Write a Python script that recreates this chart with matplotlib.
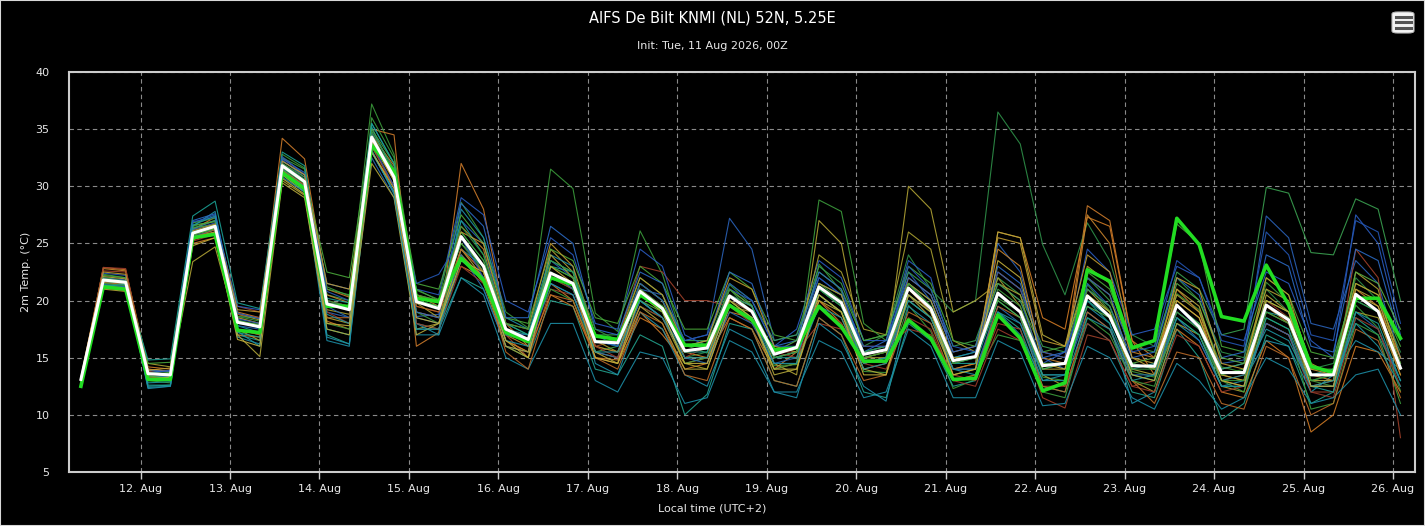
import numpy as np
import pandas as pd
import matplotlib
matplotlib.use("Agg")
import matplotlib.pyplot as plt
import matplotlib.dates as mdates
from matplotlib.patches import FancyBboxPatch, Rectangle

BG = "#000000"
GRID = "#8a8a8a"
FRAME = "#cccccc"
TXT = "#e8e8e8"

# 6-hourly valid times, local time (UTC+2)
times = pd.date_range("2026-08-11 08:00", periods=60, freq="6h")

# ensemble mean (white) and control run (bright green)
ens_mean = [13.1, 21.8, 21.6, 13.6, 13.5, 25.9, 26.5, 18.1, 17.7, 31.8, 30.4, 19.7,
            19.2, 34.3, 30.8, 19.9, 19.3, 25.6, 23.0, 17.5, 16.6, 22.4, 21.5, 16.4,
            16.3, 20.8, 19.3, 15.6, 15.85, 20.4, 19.05, 15.3, 15.9, 21.2, 19.8, 15.3,
            15.7, 21.1, 19.3, 14.75, 15.1, 20.65, 19.0, 14.3, 14.5, 20.4, 18.6, 14.3,
            14.25, 19.6, 17.7, 13.7, 13.7, 19.6, 18.3, 13.5, 13.5, 20.55, 19.05, 14.1]

control = [12.5, 21.2, 21.0, 13.1, 13.1, 25.5, 25.8, 17.4, 17.2, 31.2, 29.8, 19.5,
           19.5, 33.6, 31.3, 20.2, 19.9, 23.7, 21.8, 17.2, 16.4, 22.0, 21.4, 16.9,
           16.6, 20.5, 19.3, 16.1, 16.1, 19.6, 18.3, 15.7, 15.85, 19.5, 17.7, 14.7,
           14.7, 18.3, 16.7, 13.1, 13.2, 18.75, 16.7, 12.1, 12.8, 22.7, 21.7, 15.85,
           16.5, 27.2, 24.9, 18.6, 18.2, 23.1, 19.6, 14.25, 13.7, 20.2, 20.2, 16.7]

# individual members (approximate traces)
members = [
    [13.3, 22.3, 22.0, 13.9, 13.7, 26.5, 27.0, 18.5, 18.0, 32.8, 31.6, 21.2, 20.4, 37.2, 32.8, 20.9, 20.1, 28.6, 25.5, 19.0,
     17.6, 31.5, 29.8, 18.9, 17.3, 26.1, 22.3, 16.1, 15.4, 21.4, 19.6, 14.3, 14.4, 23.2, 20.8, 13.8, 13.7, 19.6, 17.3, 12.3,
     13.1, 20.2, 19.0, 13.3, 13.0, 21.4, 19.1, 13.8, 13.3, 20.6, 19.2, 14.2, 13.7, 21.6, 19.8, 13.0, 12.5, 19.6, 17.6, 12.1],
    [13.0, 22.9, 22.7, 14.2, 14.0, 26.2, 27.3, 19.0, 18.5, 34.2, 32.4, 21.0, 20.3, 35.0, 34.5, 16.0, 17.2, 32.0, 28.0, 18.0,
     16.0, 21.5, 20.0, 15.0, 14.8, 19.0, 17.0, 14.5, 15.0, 18.5, 17.5, 14.0, 15.5, 20.0, 18.0, 14.5, 15.0, 22.0, 20.5, 15.5,
     16.0, 22.5, 21.0, 15.5, 15.0, 28.3, 27.0, 16.5, 15.0, 21.0, 19.0, 13.0, 12.5, 18.0, 17.0, 12.5, 13.0, 21.0, 19.5, 15.0],
    [12.8, 21.4, 21.2, 12.5, 12.6, 25.5, 26.0, 17.0, 16.5, 31.0, 29.5, 17.0, 16.2, 33.0, 29.5, 18.0, 17.5, 22.0, 21.0, 16.0,
     15.0, 20.0, 19.5, 14.0, 13.5, 17.0, 16.0, 10.0, 11.8, 18.0, 17.5, 13.0, 12.5, 18.5, 17.0, 12.0, 11.5, 18.0, 16.5, 12.5,
     13.0, 19.0, 17.5, 12.5, 12.0, 18.0, 16.5, 12.0, 11.5, 17.5, 15.0, 9.6, 11.0, 17.0, 16.0, 11.0, 12.0, 18.5, 17.0, 13.0],
    [13.2, 21.9, 21.7, 13.8, 13.2, 26.8, 27.5, 18.2, 17.6, 32.0, 30.6, 19.0, 18.5, 34.8, 31.5, 18.6, 18.8, 27.0, 25.0, 17.2,
     17.0, 23.5, 22.0, 17.0, 16.0, 21.0, 20.5, 16.5, 17.0, 27.2, 24.5, 16.5, 17.0, 22.0, 20.5, 15.5, 16.0, 22.5, 20.0, 14.5,
     15.0, 25.0, 22.5, 15.0, 14.0, 21.5, 19.5, 14.5, 14.0, 19.5, 17.5, 14.5, 14.8, 27.4, 25.5, 18.0, 17.5, 23.5, 21.5, 15.0],
    [13.0, 21.5, 21.4, 13.5, 13.6, 25.8, 26.3, 18.0, 17.9, 31.5, 30.0, 20.0, 19.5, 34.0, 30.5, 20.5, 19.8, 25.0, 22.5, 17.0,
     16.5, 22.0, 21.0, 16.0, 15.5, 19.5, 18.5, 15.0, 15.5, 20.0, 19.0, 15.0, 15.5, 21.0, 19.5, 16.0, 17.0, 24.0, 21.0, 19.0,
     20.0, 36.5, 33.7, 24.9, 20.5, 26.8, 23.5, 17.0, 16.0, 22.0, 20.0, 15.5, 15.0, 21.0, 19.0, 14.0, 14.5, 22.0, 20.0, 15.5],
    [12.9, 21.6, 21.5, 13.4, 13.3, 26.0, 26.4, 18.3, 17.8, 31.6, 30.2, 20.5, 20.0, 34.5, 31.0, 20.0, 19.5, 26.0, 23.5, 18.0,
     17.0, 23.0, 22.0, 17.0, 17.0, 22.0, 20.5, 16.5, 16.5, 21.5, 20.0, 16.5, 17.0, 23.0, 21.5, 16.5, 17.0, 22.5, 21.0, 16.0,
     16.5, 22.0, 20.5, 16.0, 15.5, 22.0, 20.0, 16.0, 15.5, 22.5, 21.0, 17.0, 17.5, 29.9, 29.4, 24.2, 24.0, 28.9, 28.0, 20.0],
    [13.1, 21.0, 20.8, 13.0, 13.5, 23.4, 24.7, 17.5, 16.5, 30.5, 29.2, 18.5, 18.0, 33.5, 30.0, 17.5, 18.0, 24.0, 22.0, 16.5,
     15.5, 24.5, 22.5, 15.5, 15.0, 21.5, 20.0, 15.0, 15.0, 21.0, 19.5, 14.5, 13.5, 27.0, 25.0, 15.0, 15.0, 30.0, 28.0, 19.0,
     20.0, 21.5, 20.5, 14.0, 14.0, 23.0, 21.5, 15.0, 14.5, 20.5, 19.0, 14.0, 14.5, 21.0, 20.0, 14.5, 13.5, 22.5, 21.0, 14.0],
    [13.2, 22.6, 22.5, 14.0, 13.8, 26.3, 27.0, 19.5, 19.0, 32.5, 31.0, 20.0, 19.5, 34.0, 31.5, 19.5, 19.0, 24.5, 22.5, 17.0,
     15.0, 21.0, 20.5, 16.0, 16.5, 23.0, 22.5, 20.0, 20.0, 19.5, 18.0, 15.5, 15.5, 18.0, 17.5, 16.0, 16.0, 17.5, 17.0, 13.5,
     13.0, 18.0, 17.5, 11.5, 10.6, 17.0, 16.5, 12.5, 13.0, 19.0, 17.5, 13.0, 13.5, 18.0, 17.0, 12.0, 12.0, 24.5, 22.0, 8.0],
    [12.7, 21.3, 21.1, 13.2, 13.0, 25.0, 25.5, 17.0, 16.8, 31.2, 29.8, 18.2, 17.5, 33.0, 30.0, 19.0, 18.5, 23.0, 22.0, 16.5,
     15.5, 20.5, 19.5, 15.0, 14.5, 18.5, 17.5, 14.0, 14.5, 19.0, 18.5, 14.0, 14.5, 20.0, 18.5, 14.0, 14.5, 20.5, 19.0, 14.0,
     14.5, 26.0, 25.5, 18.5, 17.5, 27.3, 26.5, 16.5, 13.5, 17.5, 16.0, 12.0, 11.5, 16.5, 15.0, 8.5, 10.0, 16.0, 15.5, 12.0],
    [12.8, 21.7, 21.6, 12.4, 12.5, 26.5, 27.8, 17.8, 17.2, 32.2, 31.0, 16.8, 16.2, 35.5, 32.0, 18.0, 17.0, 28.0, 25.5, 18.5,
     17.5, 24.0, 23.0, 14.5, 13.5, 19.0, 17.5, 13.5, 12.5, 17.5, 16.5, 12.0, 11.5, 18.0, 16.5, 12.5, 11.2, 19.5, 18.0, 14.0,
     14.0, 19.0, 17.0, 13.0, 13.5, 19.5, 18.0, 11.0, 12.0, 18.0, 16.5, 12.5, 13.0, 16.5, 16.0, 12.0, 13.5, 16.5, 15.5, 14.0],
    [13.0, 22.0, 21.8, 13.7, 13.9, 26.2, 26.8, 19.5, 19.2, 32.3, 30.8, 21.5, 21.0, 33.0, 29.5, 21.0, 20.5, 29.0, 27.5, 20.0,
     19.0, 25.5, 24.0, 18.0, 17.5, 24.5, 23.0, 17.0, 16.0, 21.0, 20.0, 16.0, 17.5, 23.5, 22.0, 16.5, 16.5, 23.5, 22.0, 15.0,
     15.5, 21.5, 20.0, 14.5, 15.5, 24.5, 22.5, 17.0, 17.5, 23.0, 22.0, 17.0, 16.5, 22.5, 21.5, 16.5, 15.0, 27.5, 25.0, 17.0],
    [13.1, 21.2, 21.0, 14.5, 14.2, 25.6, 26.0, 18.8, 18.3, 31.0, 29.5, 19.2, 18.8, 33.8, 30.5, 19.8, 18.5, 24.0, 21.5, 16.0,
     15.0, 22.5, 21.0, 16.5, 15.5, 20.0, 18.5, 14.5, 14.0, 19.5, 19.0, 15.5, 16.0, 24.0, 22.5, 17.5, 17.0, 26.0, 24.5, 16.5,
     15.5, 22.0, 19.5, 13.5, 12.5, 21.0, 19.0, 13.0, 12.0, 18.0, 17.0, 12.5, 12.0, 19.0, 18.0, 12.5, 12.5, 19.0, 18.5, 13.5],
    [12.6, 21.5, 21.3, 13.0, 12.8, 26.8, 27.2, 17.5, 17.0, 32.5, 31.5, 18.0, 17.5, 36.0, 32.5, 19.0, 18.0, 25.5, 22.5, 17.5,
     16.5, 21.0, 20.0, 15.5, 16.0, 20.5, 19.0, 14.5, 15.0, 20.0, 18.5, 14.0, 14.5, 28.8, 27.8, 18.0, 16.5, 21.5, 19.5, 13.0,
     13.5, 17.0, 16.5, 12.0, 11.5, 18.5, 17.0, 13.0, 12.5, 18.5, 17.0, 13.0, 12.0, 18.5, 17.5, 10.5, 11.0, 18.0, 17.0, 11.0],
    [13.3, 22.8, 22.6, 14.0, 13.8, 25.3, 26.0, 18.5, 18.0, 31.8, 30.5, 20.5, 19.8, 34.5, 31.8, 20.5, 19.5, 26.5, 24.5, 17.0,
     16.0, 22.0, 21.5, 16.0, 15.5, 21.0, 19.5, 15.5, 15.0, 20.5, 19.5, 15.0, 15.5, 20.5, 19.0, 14.5, 15.0, 21.0, 19.0, 14.0,
     14.5, 24.5, 23.0, 15.0, 14.5, 27.5, 25.0, 15.5, 15.0, 20.0, 18.5, 13.5, 13.0, 19.5, 18.0, 13.5, 13.0, 20.5, 19.0, 13.5],
    [13.0, 21.8, 21.5, 12.6, 12.6, 26.3, 27.0, 17.2, 16.8, 31.5, 30.0, 17.5, 17.0, 35.2, 31.0, 17.5, 17.5, 24.5, 23.0, 17.5,
     17.0, 23.0, 22.5, 17.0, 16.5, 20.0, 18.5, 15.5, 16.0, 19.5, 18.5, 15.0, 15.5, 21.5, 20.5, 15.5, 16.0, 21.5, 20.0, 15.0,
     15.5, 20.5, 19.0, 14.0, 14.5, 20.0, 18.5, 14.0, 14.5, 19.5, 18.0, 14.0, 14.5, 19.0, 18.5, 13.5, 14.0, 20.0, 19.0, 14.5],
    [12.9, 21.4, 21.2, 13.3, 13.4, 25.6, 26.2, 17.8, 17.5, 31.4, 30.0, 19.5, 18.5, 32.5, 29.0, 18.5, 18.0, 24.0, 21.0, 16.0,
     15.5, 21.5, 20.5, 15.5, 15.0, 20.0, 18.5, 15.0, 14.5, 19.0, 18.0, 14.5, 15.0, 20.5, 19.0, 14.5, 15.0, 20.0, 18.5, 14.0,
     14.0, 19.5, 18.0, 13.5, 13.5, 19.0, 17.5, 13.5, 13.5, 18.5, 16.5, 12.5, 12.5, 18.0, 17.0, 12.5, 12.5, 19.0, 17.5, 13.0],
    [13.2, 22.2, 22.0, 14.5, 14.6, 26.6, 26.9, 18.6, 18.5, 32.0, 30.8, 22.5, 22.0, 35.0, 32.0, 21.5, 21.0, 27.5, 25.0, 18.5,
     18.0, 24.5, 23.5, 18.5, 18.0, 23.0, 21.5, 17.5, 17.5, 22.5, 21.0, 17.0, 16.5, 22.5, 21.0, 16.5, 17.0, 23.0, 21.5, 16.5,
     16.0, 21.5, 20.0, 15.5, 16.0, 22.5, 21.0, 16.0, 16.5, 26.7, 25.0, 16.0, 15.5, 22.0, 20.5, 15.5, 15.0, 21.5, 20.5, 16.0],
    [12.9, 22.9, 22.8, 13.8, 13.5, 25.2, 25.8, 18.8, 18.5, 31.2, 29.8, 19.0, 18.0, 33.5, 30.0, 18.0, 17.5, 23.0, 21.5, 17.0,
     16.5, 22.0, 21.0, 16.0, 15.0, 19.5, 18.5, 15.0, 16.0, 20.0, 19.0, 15.5, 15.0, 19.5, 18.0, 14.5, 14.0, 18.5, 17.5, 13.0,
     12.5, 17.5, 16.5, 12.5, 12.5, 18.0, 16.5, 12.5, 12.0, 17.0, 16.0, 12.0, 12.5, 20.0, 18.5, 12.0, 11.5, 18.5, 17.5, 12.5],
    [12.8, 21.6, 21.5, 12.3, 12.5, 26.0, 26.6, 16.8, 16.2, 30.8, 29.5, 16.5, 16.0, 33.0, 29.5, 17.0, 17.0, 22.0, 20.5, 15.0,
     14.0, 18.0, 18.0, 13.0, 12.0, 15.5, 15.0, 11.0, 11.5, 16.5, 15.5, 12.0, 12.0, 16.5, 15.5, 11.5, 12.0, 17.5, 16.0, 11.5,
     11.5, 16.5, 15.5, 10.8, 11.0, 16.0, 15.0, 11.5, 10.5, 14.5, 13.0, 10.5, 11.5, 15.0, 14.0, 11.0, 11.5, 13.5, 14.0, 10.0],
    [13.0, 22.1, 21.9, 13.6, 13.4, 25.9, 26.4, 17.0, 15.1, 30.3, 29.0, 17.5, 17.0, 32.0, 29.0, 17.0, 18.0, 24.5, 22.0, 16.0,
     15.5, 24.0, 22.0, 15.5, 14.5, 19.5, 18.0, 14.0, 14.0, 19.5, 18.5, 13.5, 14.0, 20.0, 19.0, 14.0, 13.5, 20.5, 18.5, 13.5,
     14.0, 26.0, 25.5, 17.0, 16.0, 22.0, 20.5, 14.0, 13.5, 21.0, 19.5, 13.5, 13.0, 20.5, 19.0, 13.0, 13.0, 21.0, 20.0, 14.5],
    [13.1, 21.9, 21.7, 13.9, 13.8, 27.0, 27.6, 18.9, 18.4, 32.4, 31.2, 19.8, 19.5, 34.6, 30.5, 19.0, 18.5, 28.5, 26.5, 18.5,
     18.5, 26.5, 25.0, 17.5, 17.0, 22.5, 21.5, 16.0, 16.5, 22.5, 21.5, 16.0, 16.5, 22.5, 21.0, 15.5, 16.5, 22.0, 20.5, 15.5,
     16.0, 23.0, 21.5, 15.0, 15.5, 21.0, 19.5, 15.0, 15.5, 22.0, 20.5, 15.0, 15.5, 24.0, 23.0, 16.0, 15.5, 24.5, 23.5, 16.5],
    [13.1, 21.6, 21.4, 13.3, 13.2, 25.5, 26.2, 17.5, 17.0, 31.4, 30.1, 18.5, 18.5, 34.0, 30.8, 19.5, 19.0, 24.5, 22.5, 15.5,
     14.0, 20.5, 20.0, 15.0, 14.0, 19.0, 18.0, 13.5, 13.0, 18.5, 17.5, 13.0, 12.5, 18.5, 17.0, 13.0, 13.5, 19.0, 18.0, 13.0,
     13.5, 19.5, 18.5, 12.5, 12.0, 19.0, 17.5, 13.0, 11.0, 15.5, 15.0, 11.0, 10.5, 16.0, 15.0, 10.0, 11.0, 17.5, 16.5, 11.5],
    [12.7, 21.8, 21.6, 13.5, 13.7, 26.4, 26.6, 18.0, 17.8, 31.9, 30.6, 21.0, 20.5, 34.5, 31.2, 21.0, 20.0, 26.0, 23.5, 17.5,
     16.5, 23.0, 22.0, 17.0, 16.5, 21.5, 20.0, 16.0, 16.0, 21.0, 19.5, 15.5, 16.0, 21.5, 20.0, 15.5, 16.0, 21.5, 19.5, 15.0,
     15.0, 21.0, 19.5, 14.5, 14.5, 20.5, 19.0, 14.5, 14.0, 19.5, 18.0, 13.5, 14.0, 19.5, 18.5, 13.0, 13.5, 20.5, 19.0, 14.0],
    [13.3, 21.3, 21.4, 14.8, 14.9, 27.4, 28.7, 19.8, 19.3, 33.0, 31.8, 20.2, 19.8, 35.5, 32.0, 20.0, 19.5, 27.0, 24.0, 18.0,
     17.0, 23.5, 22.5, 16.5, 16.0, 20.5, 19.5, 15.5, 15.5, 20.5, 19.5, 15.0, 15.0, 21.0, 19.5, 14.5, 15.0, 20.5, 19.0, 14.5,
     14.5, 20.0, 18.5, 13.5, 13.5, 20.0, 18.0, 13.5, 13.0, 18.5, 17.0, 12.5, 12.5, 18.5, 17.5, 12.5, 12.0, 19.0, 18.0, 13.0],
    [12.9, 21.7, 21.5, 13.4, 13.2, 25.7, 26.3, 18.2, 17.9, 31.7, 30.3, 19.8, 19.5, 34.2, 30.6, 20.0, 19.5, 25.0, 23.0, 17.5,
     16.5, 22.5, 21.5, 16.5, 16.5, 20.0, 19.0, 16.0, 16.5, 20.0, 18.5, 15.5, 16.5, 20.5, 19.0, 15.0, 15.5, 20.0, 18.5, 14.5,
     15.0, 20.0, 18.5, 14.0, 14.5, 19.5, 18.5, 14.5, 15.0, 21.5, 20.0, 15.0, 14.5, 20.0, 19.0, 14.0, 14.0, 22.5, 21.5, 17.5],
    [13.0, 22.4, 22.2, 13.6, 13.9, 26.9, 27.3, 18.4, 18.0, 32.6, 31.0, 20.8, 20.0, 33.8, 30.0, 21.5, 22.3, 25.5, 22.0, 17.0,
     16.5, 22.5, 21.0, 16.5, 16.0, 21.5, 20.0, 16.5, 17.0, 21.5, 20.0, 16.0, 16.0, 22.0, 20.5, 16.0, 16.0, 23.0, 21.0, 16.0,
     15.5, 22.5, 21.0, 15.5, 15.0, 22.0, 20.5, 15.5, 16.0, 23.5, 22.0, 16.5, 16.0, 26.0, 24.0, 17.0, 16.5, 27.0, 26.0, 18.0],
    [13.2, 22.5, 22.3, 13.9, 14.1, 26.1, 26.7, 19.2, 19.0, 32.2, 31.0, 21.5, 21.0, 34.0, 30.5, 20.5, 20.0, 26.0, 25.0, 18.0,
     17.5, 25.0, 23.0, 17.0, 16.5, 22.0, 20.5, 16.0, 16.5, 22.0, 21.0, 16.0, 15.5, 21.5, 20.5, 15.0, 15.5, 21.5, 20.0, 15.0,
     15.0, 25.5, 25.0, 16.5, 16.0, 24.0, 22.5, 15.0, 14.0, 22.0, 21.0, 14.5, 14.0, 22.0, 20.5, 14.0, 13.5, 21.5, 20.5, 15.0],
    [12.4, 21.2, 21.0, 12.8, 12.9, 26.6, 27.4, 17.3, 16.0, 31.3, 29.6, 18.8, 18.0, 33.2, 29.3, 17.5, 17.5, 23.5, 22.0, 16.5,
     16.0, 21.5, 20.5, 15.5, 15.5, 20.0, 18.5, 15.0, 15.0, 19.5, 18.5, 14.5, 14.5, 19.5, 18.5, 14.0, 14.5, 20.0, 18.5, 14.0,
     13.5, 19.0, 18.0, 13.0, 13.0, 18.5, 17.5, 13.0, 13.5, 19.0, 17.5, 13.0, 13.5, 17.5, 16.5, 12.5, 13.0, 18.0, 16.0, 12.5],
    [13.1, 22.0, 21.7, 13.7, 13.6, 26.0, 26.5, 18.6, 18.2, 31.6, 30.4, 20.0, 19.5, 34.8, 31.5, 20.5, 20.0, 26.5, 24.0, 18.0,
     17.5, 23.5, 22.5, 17.5, 16.5, 21.0, 19.5, 15.5, 16.0, 21.0, 19.0, 15.0, 15.5, 21.0, 19.5, 15.0, 15.5, 21.5, 19.5, 14.5,
     15.0, 20.5, 19.0, 14.5, 14.5, 21.0, 19.5, 14.0, 14.0, 19.0, 17.5, 13.0, 13.0, 19.0, 18.0, 13.0, 13.5, 20.0, 19.0, 14.5],
    [13.0, 21.1, 20.9, 13.1, 13.3, 24.8, 25.5, 16.6, 16.0, 30.7, 29.3, 18.0, 17.8, 33.0, 29.8, 18.5, 18.0, 23.5, 22.5, 16.5,
     15.0, 23.0, 21.5, 15.0, 14.5, 20.5, 19.0, 14.5, 14.5, 20.0, 18.5, 14.0, 14.0, 20.5, 19.0, 13.5, 13.5, 20.5, 19.0, 13.5,
     14.0, 23.5, 22.0, 14.5, 14.0, 20.5, 19.0, 13.5, 13.0, 20.0, 18.5, 13.0, 12.5, 20.0, 19.0, 12.5, 12.5, 20.5, 19.5, 14.0],
]

member_colors = ["#3a9a3a", "#cc7a2a", "#22a08c", "#2a62b8", "#2e8f48", "#3aa050",
                 "#b0a234", "#a0402a", "#d07a24", "#1f8fa8", "#2a5cc0", "#a8a030",
                 "#3c9c3c", "#c8842c", "#1e9c94", "#2868b0", "#4aa83a", "#9a3a2a",
                 "#1c8ca4", "#b4a83a", "#2b6ac4", "#b86a28", "#40a040", "#1aa094",
                 "#58b044", "#2456b4", "#c09a30", "#1f94a0", "#36983e", "#c2b03c"]

fig = plt.figure(figsize=(14.25, 5.26), dpi=100)
fig.patch.set_facecolor(BG)
ax = fig.add_axes([69 / 1425, 1 - 472 / 526, (1415 - 69) / 1425, 400 / 526])
ax.set_facecolor(BG)

for vals, col in zip(members, member_colors):
    ax.plot(times, vals, color=col, lw=0.8, alpha=0.9, zorder=2)

ax.plot(times, control, color="#22dd22", lw=2.6, zorder=4, solid_joinstyle="round")
ax.plot(times, ens_mean, color="#ffffff", lw=2.2, zorder=5, solid_joinstyle="round")

ax.set_ylim(5, 40)
ax.set_yticks(np.arange(5, 41, 5))
ax.set_xlim(pd.Timestamp("2026-08-11 04:48"), pd.Timestamp("2026-08-26 05:54"))
ax.xaxis.set_major_locator(mdates.DayLocator())
ax.xaxis.set_major_formatter(mdates.DateFormatter("%d. %b"))

ax.grid(True, color=GRID, ls=(0, (4, 3)), lw=0.8)
ax.set_axisbelow(True)
for s in ax.spines.values():
    s.set_color(FRAME)
    s.set_linewidth(1.5)

ax.tick_params(axis="x", colors=FRAME, labelcolor=TXT, labelsize=8, length=5, width=1, pad=4)
ax.tick_params(axis="y", colors=FRAME, labelcolor=TXT, labelsize=8, length=0, pad=14)

ax.set_ylabel("2m Temp. (°C)", color=TXT, fontsize=8, labelpad=3)
fig.text(0.5, 0.034, "Local time (UTC+2)", color=TXT, fontsize=8, ha="center", va="center")
fig.text(0.5, 0.965, "AIFS De Bilt KNMI (NL) 52N, 5.25E", color="#ffffff", fontsize=10.5,
         ha="center", va="center")
fig.text(0.5, 0.912, "Init: Tue, 11 Aug 2026, 00Z", color=TXT, fontsize=8, ha="center", va="center")

# outer border and export-menu button
fig.patches.append(Rectangle((0, 0), 1, 1, transform=fig.transFigure, fill=False,
                             edgecolor="#d8d8d8", lw=1.5))
btn = FancyBboxPatch((1392 / 1425, 1 - 33 / 526), 22 / 1425, 21 / 526, transform=fig.transFigure,
                     boxstyle="round,pad=0,rounding_size=0.004", facecolor="#f4f4f4",
                     edgecolor="#bbbbbb", lw=0.8)
fig.patches.append(btn)
for yy in (16.5, 22, 27.5):
    fig.add_artist(plt.Line2D([1395.5 / 1425, 1410.5 / 1425], [1 - yy / 526] * 2,
                              transform=fig.transFigure, color="#555555", lw=2.2))

fig.savefig("out.png", dpi=100, facecolor=BG)
